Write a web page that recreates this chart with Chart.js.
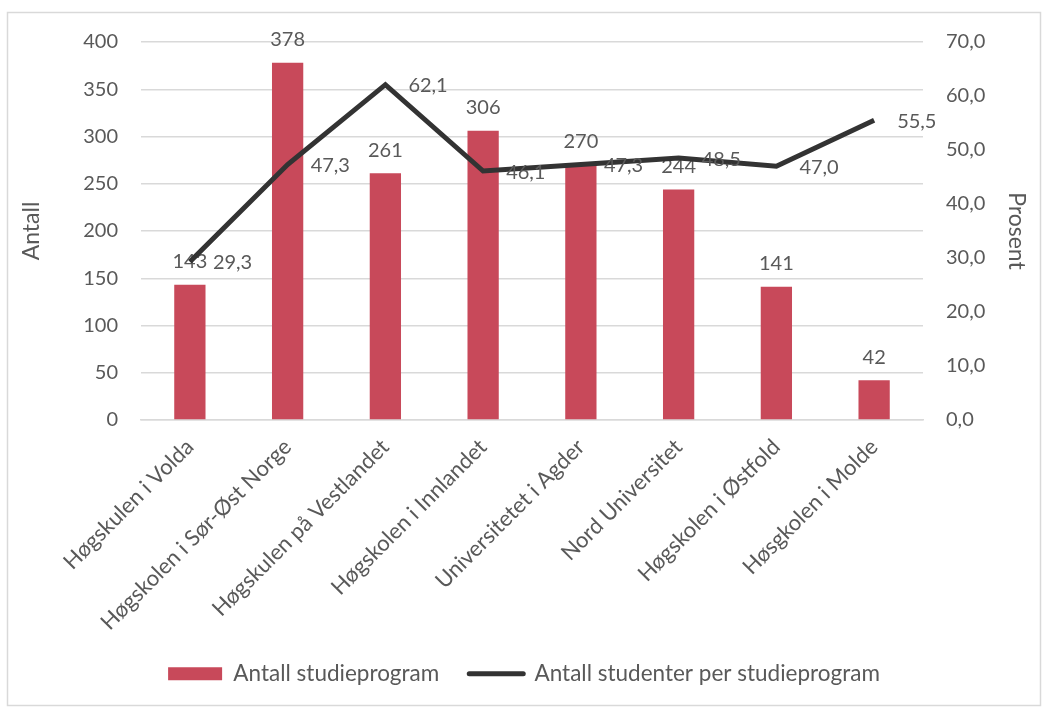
<!DOCTYPE html>
<html>
<head>
<meta charset="utf-8">
<script src="https://cdn.jsdelivr.net/npm/chart.js@4/dist/chart.umd.min.js"></script>
<style>
  html, body { margin: 0; padding: 0; background: #fff; }
  #wrap { width: 1048px; height: 709px; }
</style>
</head>
<body>
<div id="wrap"><canvas id="myChart" width="1048" height="709"></canvas></div>
<script>
// ---- data ----
const categories = [
    "Høgskulen i Volda",
    "Høgskolen i Sør-Øst Norge",
    "Høgskulen på Vestlandet",
    "Høgskolen i Innlandet",
    "Universitetet i Agder",
    "Nord Universitet",
    "Høgskolen i Østfold",
    "Høsgkolen i Molde"
];
const antallStudieprogram = [143, 378, 261, 306, 270, 244, 141, 42];
const studenterPerProgram = [29.3, 47.3, 62.1, 46.1, 47.3, 48.5, 47.0, 55.5];

const textColor = "#595959";
const barColor = "#C8495A";
const lineColor = "#333333";
const fontFamily = "Lato, 'Open Sans', sans-serif";

function komma(v) {
    return v.toFixed(1).replace(".", ",");
}

// white background + thin frame
const framePlugin = {
    id: "frame",
    beforeDraw(chart) {
        const ctx = chart.ctx;
        ctx.save();
        ctx.fillStyle = "#fff";
        ctx.fillRect(0, 0, chart.width, chart.height);
        ctx.strokeStyle = "#d9d9d9";
        ctx.lineWidth = 1.5;
        ctx.strokeRect(7.5, 12.5, 1033, 693);
        ctx.restore();
    }
};

// value labels (bars above, line to the right)
const labelPlugin = {
    id: "valueLabels",
    afterDatasetDraw(chart, args) {
        if (args.index !== 0) return;
        const ctx = chart.ctx;
        ctx.save();
        ctx.font = "20px " + fontFamily;
        ctx.fillStyle = textColor;
        ctx.textAlign = "center";
        ctx.textBaseline = "middle";
        chart.getDatasetMeta(0).data.forEach((bar, i) => {
            ctx.fillText(String(antallStudieprogram[i]), bar.x, bar.y - 23);
        });
        ctx.restore();
    },
    afterDatasetsDraw(chart) {
        const ctx = chart.ctx;
        ctx.save();
        ctx.font = "20px " + fontFamily;
        ctx.fillStyle = textColor;
        ctx.textAlign = "left";
        ctx.textBaseline = "middle";
        chart.getDatasetMeta(1).data.forEach((pt, i) => {
            ctx.fillText(komma(studenterPerProgram[i]), pt.x + 23, pt.y + 1);
        });
        ctx.restore();
    }
};

const data = {
    labels: categories,
    datasets: [
        {
            type: "bar",
            label: "Antall studieprogram",
            data: antallStudieprogram,
            backgroundColor: barColor,
            borderWidth: 0,
            yAxisID: "y",
            order: 1,
            categoryPercentage: 1.0,
            barPercentage: 0.32
        },
        {
            type: "line",
            label: "Antall studenter per studieprogram",
            data: studenterPerProgram,
            borderColor: lineColor,
            backgroundColor: lineColor,
            borderWidth: 5,
            pointRadius: 0,
            tension: 0,
            yAxisID: "y1",
            order: 0
        }
    ]
};

const config = {
    type: "bar",
    data: data,
    plugins: [framePlugin, labelPlugin],
    options: {
        responsive: false,
        maintainAspectRatio: false,
        animation: false,
        layout: { padding: { top: 42, left: 0, right: 0, bottom: 14 } },
        plugins: {
            tooltip: { enabled: false },
            legend: {
                position: "bottom",
                labels: {
                    color: textColor,
                    font: { family: fontFamily, size: 22.5 },
                    usePointStyle: true,
                    pointStyleWidth: 54,
                    boxHeight: 13,
                    padding: 30,
                    generateLabels(chart) {
                        const items = Chart.defaults.plugins.legend.labels.generateLabels(chart);
                        items.sort((a, b) => a.datasetIndex - b.datasetIndex);
                        items.forEach((it) => {
                            if (it.datasetIndex === 0) {
                                it.pointStyle = "rect";
                                it.lineWidth = 0;
                                it.fillStyle = barColor;
                            } else {
                                it.pointStyle = "line";
                                it.lineWidth = 5;
                                it.strokeStyle = lineColor;
                                it.lineCap = "round";
                            }
                        });
                        return items;
                    }
                }
            }
        },
        scales: {
            x: {
                grid: { display: false },
                border: { display: true, color: "#d9d9d9", width: 1.5 },
                ticks: {
                    color: textColor,
                    font: { family: fontFamily, size: 22 },
                    minRotation: 45,
                    maxRotation: 45,
                    autoSkip: false,
                    padding: 6
                },
                afterFit(s) {
                    const lg = s.chart.legend ? s.chart.legend.height : 0;
                    s.height = s.chart.height - 420 - lg - 14;
                }
            },
            y: {
                position: "left",
                min: 0,
                max: 400,
                grid: { color: "#d9d9d9", lineWidth: 1.5, drawTicks: false },
                border: { display: false },
                ticks: {
                    stepSize: 50,
                    color: textColor,
                    font: { family: fontFamily, size: 20 },
                    padding: 23
                },
                title: {
                    display: true,
                    text: "Antall",
                    color: textColor,
                    font: { family: fontFamily, size: 23 },
                    padding: { top: 18, bottom: 0 }
                },
                afterFit(s) { s.width = 141; }
            },
            y1: {
                position: "right",
                min: 0,
                max: 70,
                grid: { display: false, drawTicks: false },
                border: { display: false },
                ticks: {
                    stepSize: 10,
                    color: textColor,
                    font: { family: fontFamily, size: 20 },
                    padding: 23,
                    callback: (v) => komma(v)
                },
                title: {
                    display: true,
                    text: "Prosent",
                    color: textColor,
                    font: { family: fontFamily, size: 23 },
                    padding: { top: 18, bottom: 0 }
                },
                afterFit(s) { s.width = 125; }
            }
        }
    }
};

const myChart = new Chart(document.getElementById("myChart").getContext("2d"), config);
</script>
</body>
</html>
